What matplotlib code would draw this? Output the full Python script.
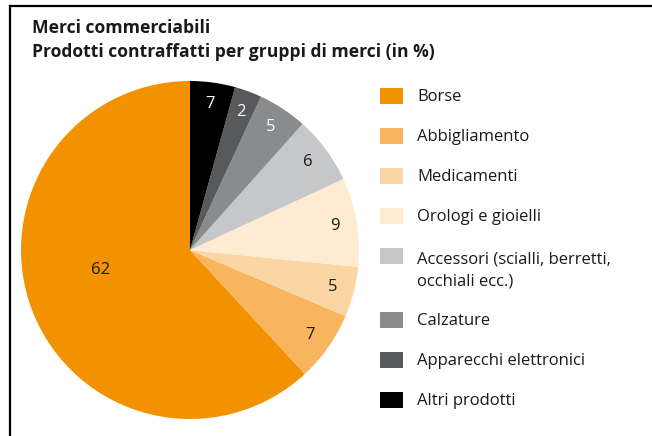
import matplotlib
matplotlib.use("Agg")
import matplotlib.pyplot as plt
from matplotlib.patches import Rectangle
from matplotlib.lines import Line2D
import numpy as np

plt.rcParams['font.family'] = ['Open Sans', 'DejaVu Sans']

categories = ["Borse", "Abbigliamento", "Medicamenti", "Orologi e gioielli",
              "Accessori (scialli, berretti,\nocchiali ecc.)", "Calzature",
              "Apparecchi elettronici", "Altri prodotti"]
# wedge sizes as drawn in the picture (percent)
shares = [61.9, 6.7, 4.8, 8.5, 6.5, 4.7, 2.6, 4.3]
# printed labels
value_labels = ["62", "7", "5", "9", "6", "5", "2", "7"]
colors = ["#F39200", "#F8B55E", "#FBD6A5", "#FEEBD2", "#C6C7C9", "#8A8B8D", "#58595B", "#000000"]
label_colors = ["#1a1a1a", "#1a1a1a", "#1a1a1a", "#1a1a1a", "#1a1a1a", "white", "white", "white"]

W, H = 652, 436
fig = plt.figure(figsize=(W / 100, H / 100), dpi=100)

# pie axes: center (190,250), radius 169 px
cx, cy, r = 190, 250, 169
ax = fig.add_axes([(cx - r) / W, (H - cy - r) / H, 2 * r / W, 2 * r / H])
wedges, _ = ax.pie(shares, colors=colors, startangle=90, counterclock=True,
                   radius=1.0, wedgeprops=dict(linewidth=0))
ax.set_xlim(-1, 1)
ax.set_ylim(-1, 1)
ax.set_aspect('equal')
ax.axis('off')

for i, w in enumerate(wedges):
    if i == 0:
        theta = np.deg2rad(w.theta1 + 0.46 * (w.theta2 - w.theta1))
        rr = 0.54
    else:
        theta = np.deg2rad((w.theta1 + w.theta2) / 2)
        rr = 0.87
    x, y = rr * np.cos(theta), rr * np.sin(theta)
    ax.text(x, y, value_labels[i], ha='center', va='center', fontsize=12,
            color=label_colors[i])

# title
fig.text(32 / W, 1 - 28 / H, "Merci commerciabili", fontsize=12.6, fontweight='bold',
         ha='left', va='center', color='#1a1a1a')
fig.text(32 / W, 1 - 52 / H, "Prodotti contraffatti per gruppi di merci (in %)", fontsize=12.6,
         fontweight='bold', ha='left', va='center', color='#1a1a1a')

# legend (manual)
ys = [96, 136, 176, 216, 256, 320, 360, 400]
for lab, col, yc in zip(categories, colors, ys):
    fig.patches.append(Rectangle((380 / W, 1 - (yc + 8) / H), 23 / W, 16 / H,
                                 transform=fig.transFigure, facecolor=col, edgecolor='none'))
    if '\n' in lab:
        fig.text(417 / W, 1 - (yc - 4) / H, lab, fontsize=12, ha='left', va='top',
                 color='#1a1a1a', linespacing=1.5)
    else:
        fig.text(417 / W, 1 - (yc + 1) / H, lab, fontsize=12, ha='left', va='center',
                 color='#1a1a1a')

# frame lines (top and left)
fig.add_artist(Line2D([10 / W, 1], [1 - 6 / H, 1 - 6 / H], transform=fig.transFigure,
                      color='black', linewidth=1.6))
fig.add_artist(Line2D([10 / W, 10 / W], [0, 1 - 6 / H], transform=fig.transFigure,
                      color='black', linewidth=1.6))

fig.savefig("out.png", dpi=100, facecolor='white')
